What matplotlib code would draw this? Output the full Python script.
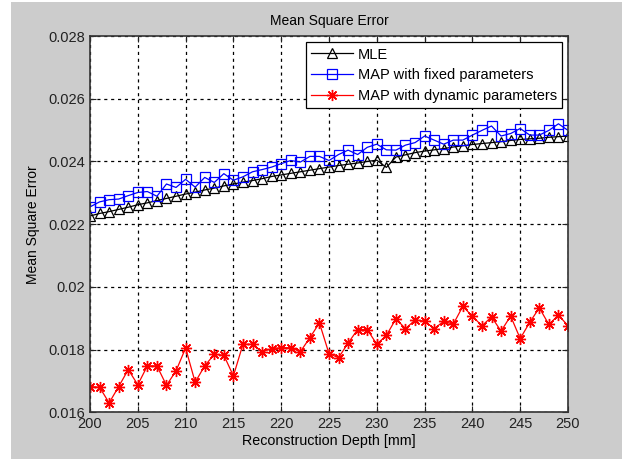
import matplotlib
matplotlib.use("Agg")
import matplotlib.pyplot as plt
from matplotlib.patches import Rectangle
from matplotlib.ticker import FuncFormatter

# =====================================================================
# Data
# =====================================================================
depth = list(range(200, 251))

mle = [0.02226, 0.02234, 0.02240, 0.02247, 0.02254, 0.02262, 0.02268, 0.02275,
       0.02282, 0.02289, 0.02296, 0.02302, 0.02309, 0.02315, 0.02322, 0.02328,
       0.02334, 0.02339, 0.02345, 0.02352, 0.02357, 0.02362, 0.02367, 0.02372,
       0.02377, 0.02382, 0.02387, 0.02391, 0.02395, 0.02400, 0.02404, 0.02381,
       0.02414, 0.02421, 0.02428, 0.02433, 0.02437, 0.02441, 0.02446, 0.02450,
       0.02454, 0.02457, 0.02460, 0.02463, 0.02467, 0.02470, 0.02472, 0.02474,
       0.02477, 0.02479, 0.02481]

map_fixed = [0.02255, 0.02271, 0.02278, 0.02280, 0.02291, 0.02301, 0.02304, 0.02289,
             0.02328, 0.02317, 0.02343, 0.02318, 0.02349, 0.02333, 0.02361, 0.02340,
             0.02351, 0.02367, 0.02374, 0.02382, 0.02393, 0.02403, 0.02398, 0.02416,
             0.02416, 0.02403, 0.02422, 0.02436, 0.02422, 0.02445, 0.02455, 0.02437,
             0.02436, 0.02452, 0.02460, 0.02481, 0.02468, 0.02455, 0.02468, 0.02468,
             0.02484, 0.02499, 0.02513, 0.02481, 0.02489, 0.02505, 0.02484, 0.02484,
             0.02499, 0.02520, 0.02499]

map_dynamic = [0.01682, 0.01680, 0.01630, 0.01682, 0.01736, 0.01688, 0.01748, 0.01748,
               0.01686, 0.01732, 0.01805, 0.01696, 0.01748, 0.01785, 0.01782, 0.01716,
               0.01817, 0.01817, 0.01793, 0.01803, 0.01806, 0.01806, 0.01793, 0.01838,
               0.01885, 0.01787, 0.01774, 0.01821, 0.01864, 0.01864, 0.01817, 0.01845,
               0.01898, 0.01867, 0.01894, 0.01891, 0.01867, 0.01890, 0.01881, 0.01938,
               0.01906, 0.01876, 0.01904, 0.01859, 0.01907, 0.01835, 0.01887, 0.01933,
               0.01880, 0.01910, 0.01876]

x_ticks = list(range(200, 251, 5))
y_ticks = [0.016, 0.018, 0.020, 0.022, 0.024, 0.026, 0.028]

plt.rcParams['font.family'] = ['Liberation Sans', 'DejaVu Sans']

fig = plt.figure(figsize=(6.26, 4.59), dpi=100)
fig.patch.set_facecolor('white')
# matlab-style grey figure background
fig.patches.append(Rectangle((11 / 626, 0), 611 / 626, 457 / 459,
                             transform=fig.transFigure, facecolor='#cccccc',
                             edgecolor='none', zorder=-10))

ax = fig.add_axes([90 / 626, 1 - 412.3 / 459, 478 / 626, 376.3 / 459])
ax.set_facecolor('white')

ax.plot(depth, mle, color='black', marker='^', markersize=7, markerfacecolor='none',
        markeredgewidth=0.9, linewidth=0.9, label='MLE')
ax.plot(depth, map_fixed, color='blue', marker='s', markersize=7, markerfacecolor='none',
        markeredgewidth=0.9, linewidth=0.9, label='MAP with fixed parameters')
# asterisk marker like matlab's '*'
ax.plot(depth, map_dynamic, color='red', marker=(8, 2, 0), markersize=8,
        markeredgewidth=1.0, linewidth=0.9, label='MAP with dynamic parameters')

ax.set_xlim(200, 250)
ax.set_ylim(0.016, 0.028)
ax.set_xticks(x_ticks)
ax.set_yticks(y_ticks)
ax.yaxis.set_major_formatter(FuncFormatter(lambda v, p: f"{v:g}"))
ax.tick_params(direction='in', top=True, right=True, labelsize=10.5, length=4,
               colors='#222222')
ax.grid(True, color='black', linestyle=(0, (2.5, 3)), linewidth=0.9)
for s in ax.spines.values():
    s.set_color('#333333')
    s.set_linewidth(1.2)

ax.set_title("Mean Square Error", fontsize=10, pad=8)
ax.set_xlabel("Reconstruction Depth [mm]", fontsize=10.3, labelpad=2)
ax.set_ylabel("Mean Square Error", fontsize=10, labelpad=6)

leg = ax.legend(loc='upper right', bbox_to_anchor=(0.988, 0.983), fontsize=10.5,
                numpoints=1, handlelength=2.9, fancybox=False, framealpha=1,
                borderpad=0.35, labelspacing=0.45, handletextpad=0.35,
                borderaxespad=0)
leg.get_frame().set_edgecolor('black')
leg.get_frame().set_linewidth(0.9)

plt.savefig("out.png", dpi=100)
